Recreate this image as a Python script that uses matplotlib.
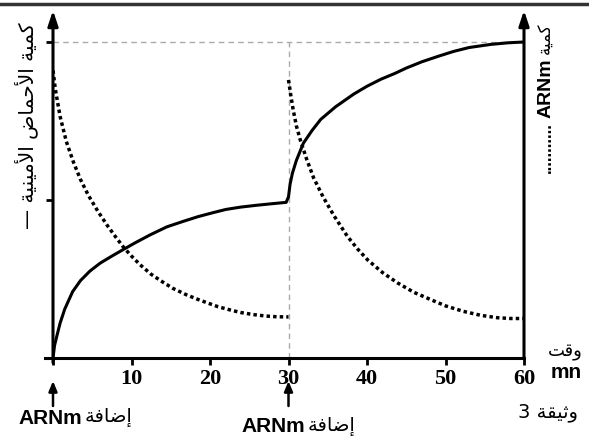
import matplotlib.pyplot as plt
from matplotlib.lines import Line2D

# amino acids (solid)
aa_t = [0, 0.2, 0.47, 0.9, 1.5, 2.5, 3.5, 4.7, 6, 7.5, 8.9, 10.5, 12.4, 14.5,
        16.6, 18.5, 20.4, 22, 23.9, 26, 28, 29.7,
        30, 30.2, 30.5, 31, 31.9, 33, 34.1, 36, 38.3, 40, 41.8, 43.5, 45, 47,
        49.1, 51, 53, 55.8, 58, 60]
aa_q = [0, 0.08, 0.135, 0.22, 0.31, 0.42, 0.49, 0.55, 0.60, 0.645, 0.685, 0.73,
        0.78, 0.83, 0.865, 0.895, 0.92, 0.94, 0.955, 0.967, 0.977, 0.985,
        1.02, 1.1, 1.17, 1.25, 1.36, 1.44, 1.51, 1.59, 1.67, 1.72, 1.765, 1.80,
        1.835, 1.875, 1.91, 1.94, 1.965, 1.985, 1.995, 2.0]

# ARNm (dotted), two additions
arn1_t = [0, 0.3, 0.9, 1.7, 2.6, 3.5, 4.5, 5.7, 6.9, 8, 9, 10, 11.1, 12.5,
          14, 15.3, 17, 18.5, 19.6, 21, 22.5, 23.9, 25.5, 27, 28.5, 30]
arn1_q = [1.82, 1.70, 1.53, 1.37, 1.24, 1.13, 1.03, 0.93, 0.84, 0.765, 0.70,
          0.645, 0.59, 0.53, 0.48, 0.44, 0.40, 0.37, 0.35, 0.325, 0.305, 0.288,
          0.275, 0.266, 0.261, 0.26]
arn2_t = [30, 30.3, 30.6, 31, 31.5, 32.3, 33.2, 34.4, 35.8, 37.5, 38.8, 40.1,
          42, 43.9, 46, 48.1, 50, 52.3, 54.5, 56.6, 58.3, 60]
arn2_q = [1.76, 1.66, 1.57, 1.47, 1.38, 1.26, 1.14, 1.02, 0.90, 0.77, 0.69,
          0.62, 0.54, 0.475, 0.415, 0.37, 0.33, 0.295, 0.27, 0.255, 0.25, 0.25]

xticks = [10, 20, 30, 40, 50, 60]

# arabic words, pre-shaped in visual order
w_idafa = "\uFE94\uFED3\uFE8E\uFEBF\uFE87"
w_waqt = "\uFE96\uFED7\uFEED"
w_wathiqa = "\uFE94\uFED8\uFEF4\uFE9B\uFEED"
w_kammiya = "\uFE94\uFEF4\uFEE4\uFEDB"
w_ahmad = "\uFEBD\uFE8E\uFEE4\uFEA3\uFEF7\uFE8D"
w_amin = "\uFE94\uFEF4\uFEE8\uFEF4\uFEE3\uFEF7\uFE8D"

W, H = 589, 437
fig = plt.figure(figsize=(W / 100, H / 100), dpi=100)
ax = fig.add_axes([53 / W, 1 - 358 / H, (524 - 53) / W, 2.2 * 158 / H])
ax.set_xlim(0, 60)
ax.set_ylim(0, 2.2)
for s in ax.spines.values():
    s.set_visible(False)

# guide lines
ax.plot([0, 60], [2, 2], color='#aaaaaa', lw=1, ls=(0, (4, 3)))
ax.plot([30, 30], [0, 2], color='#aaaaaa', lw=1, ls=(0, (4, 3)))

ax.plot(aa_t, aa_q, color='k', lw=2.2, solid_capstyle='round')
ax.plot(arn1_t, arn1_q, color='k', lw=2.5, ls=(0, (1, 0.9)))
ax.plot(arn2_t, arn2_q, color='k', lw=2.5, ls=(0, (1, 0.9)))

# axes with arrows
ax.plot([-1, 60], [0, 0], color='k', lw=2.2, clip_on=False)
ax.annotate('', xy=(0, 2.2), xytext=(0, -0.03), annotation_clip=False,
            arrowprops=dict(arrowstyle='-|>,head_length=0.9,head_width=0.3',
                            lw=2.2, color='k', shrinkA=0, shrinkB=0))
ax.annotate('', xy=(60, 2.2), xytext=(60, 0), annotation_clip=False,
            arrowprops=dict(arrowstyle='-|>,head_length=0.9,head_width=0.3',
                            lw=2.2, color='k', shrinkA=0, shrinkB=0))

ax.set_xticks([0] + xticks)
ax.set_xticklabels([''] + [str(v) for v in xticks], family='Liberation Serif',
                   fontsize=16, fontweight='bold')
ax.set_yticks([1, 2])
ax.set_yticklabels([])
ax.tick_params(axis='both', direction='out', length=5, width=2, pad=3)

# addition arrows
for t in [0, 30]:
    ax.annotate('', xy=(t, 1 - 381 / H), xytext=(t, 1 - 406 / H),
                xycoords=('data', 'figure fraction'),
                textcoords=('data', 'figure fraction'), annotation_clip=False,
                arrowprops=dict(arrowstyle='-|>,head_length=0.6,head_width=0.25',
                                lw=1.8, color='k', shrinkA=0, shrinkB=0))
fig.text(82 / W, 1 - 418 / H, 'ARNm', ha='right', va='center',
         family='Liberation Sans', fontweight='bold', fontsize=15)
fig.text(85 / W, 1 - 417 / H, w_idafa, ha='left', va='center',
         family='DejaVu Sans', fontsize=14)
fig.text(305 / W, 1 - 427 / H, 'ARNm', ha='right', va='center',
         family='Liberation Sans', fontweight='bold', fontsize=15)
fig.text(308 / W, 1 - 426 / H, w_idafa, ha='left', va='center',
         family='DejaVu Sans', fontsize=14)

fig.text(565 / W, 1 - 352 / H, w_waqt, ha='center', va='center',
         family='DejaVu Sans', fontsize=13)
fig.text(566 / W, 1 - 372 / H, 'mn', ha='center', va='center',
         family='Liberation Sans', fontweight='bold', fontsize=15)
fig.text(548 / W, 1 - 413 / H, '3 ' + w_wathiqa, ha='center', va='center',
         family='DejaVu Sans', fontsize=14)

# axis titles
fig.text(26 / W, 1 - 126 / H, '\u2014 ' + w_amin + ' ' + w_ahmad + ' ' + w_kammiya,
         rotation=90, ha='center', va='center', family='DejaVu Sans', fontsize=14.5)
fig.text(546 / W, 1 - 88 / H, 'ARNm', rotation=90, ha='center',
         va='center', family='Liberation Sans', fontweight='bold', fontsize=14)
fig.text(546 / W, 1 - 148 / H, '...........', rotation=90, ha='center',
         va='center', family='Liberation Sans', fontweight='bold', fontsize=12)
fig.text(546 / W, 1 - 38 / H, w_kammiya, rotation=90, ha='center', va='center',
         family='DejaVu Sans', fontsize=12)

# frame line at the top
fig.add_artist(Line2D([0, 1], [1 - 4 / H, 1 - 4 / H], color='#333333', lw=2.5))

fig.savefig('out.png', dpi=100)
